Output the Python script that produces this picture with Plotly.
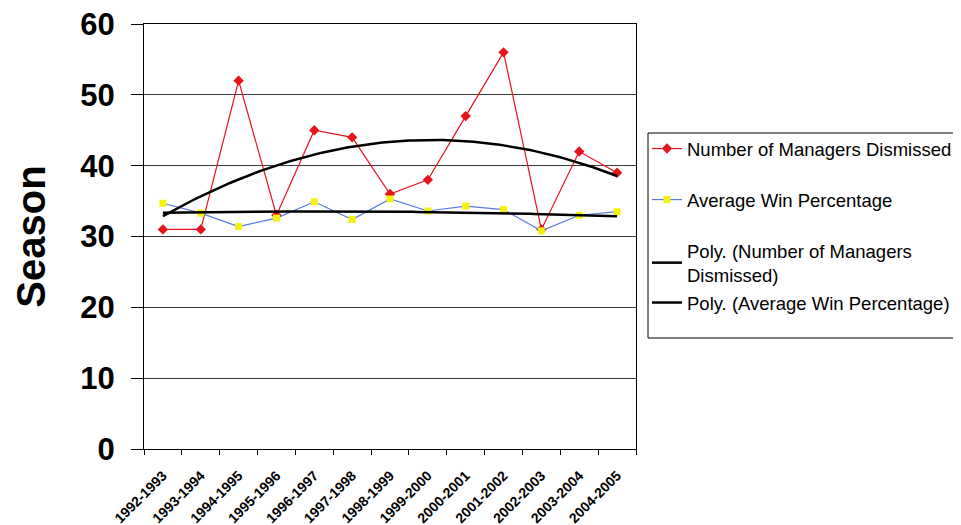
import numpy as np
import plotly.graph_objects as go

seasons = ["1992-1993", "1993-1994", "1994-1995", "1995-1996", "1996-1997",
           "1997-1998", "1998-1999", "1999-2000", "2000-2001", "2001-2002",
           "2002-2003", "2003-2004", "2004-2005"]
managers_dismissed = [31, 31, 52, 33, 45, 44, 36, 38, 47, 56, 31, 42, 39]
avg_win_pct = [34.7, 33.3, 31.4, 32.6, 34.9, 32.4, 35.3, 33.6, 34.3, 33.8, 30.8, 33.0, 33.5]
y_ticks = [0, 10, 20, 30, 40, 50, 60]

idx = np.arange(len(seasons))
xs = np.linspace(0, len(seasons) - 1, 121)
fit_m = np.polyval(np.polyfit(idx, managers_dismissed, 2), xs)
fit_w = np.polyval(np.polyfit(idx, avg_win_pct, 2), xs)

FONT = "Liberation Sans, Arial, sans-serif"
W, H = 961, 525
OFF = 8  # page body margin
# plot area in page pixels
PL, PR, PT, PB = 144, 636, 24, 449
L, R, T, B = PL - OFF, PR - OFF, PT - OFF, PB - OFF


def px(xp):
    return (xp - PL) / (PR - PL)


def py(yp):
    return (PB - yp) / (PB - PT)


fig = go.Figure()
fig.add_trace(go.Scatter(
    x=idx, y=managers_dismissed, mode="lines+markers",
    name="Number of Managers Dismissed", legend="legend", legendgroup="a",
    line=dict(color="#E8141B", width=1.2),
    marker=dict(symbol="diamond", size=8, color="#E8141B")))
fig.add_trace(go.Scatter(
    x=idx, y=avg_win_pct, mode="lines+markers",
    name="Average Win Percentage", legend="legend", legendgroup="b",
    line=dict(color="#5A78E0", width=1.2),
    marker=dict(symbol="square", size=7, color="#F4F010")))
fig.add_trace(go.Scatter(
    x=xs, y=fit_m, mode="lines",
    name="Poly. (Number of Managers<br>Dismissed)", legend="legend", legendgroup="c",
    line=dict(color="black", width=2.5)))
fig.add_trace(go.Scatter(
    x=xs, y=fit_w, mode="lines",
    name="Poly. (Average Win Percentage)", legend="legend2",
    line=dict(color="black", width=2.5)))

legfont = dict(size=18.5, family=FONT, color="black")
fig.update_layout(
    width=W, height=H,
    margin=dict(l=L, r=W - R, t=T, b=H - B, autoexpand=False),
    paper_bgcolor="white", plot_bgcolor="white",
    font=dict(family=FONT, color="black"),
    showlegend=True,
    legend=dict(
        x=px(647), y=py(130), xanchor="left", yanchor="top",
        borderwidth=0, bgcolor="rgba(0,0,0,0)", font=legfont,
        traceorder="grouped", tracegroupgap=24, itemwidth=30,
    ),
    legend2=dict(
        x=px(647), y=py(284), xanchor="left", yanchor="top",
        borderwidth=0, bgcolor="rgba(0,0,0,0)", font=legfont,
        itemwidth=30,
    ),
    shapes=[dict(type="rect", xref="paper", yref="paper",
                 x0=px(648), x1=px(980), y0=py(338), y1=py(133),
                 line=dict(color="black", width=1), fillcolor="rgba(0,0,0,0)",
                 layer="below")],
)
fig.update_xaxes(
    range=[-0.5, len(seasons) - 0.5], automargin=False,
    tickmode="array", tickvals=idx, ticktext=seasons,
    tickangle=-45, ticks="", ticklabelstandoff=12, ticklabeloverflow="allow",
    tickfont=dict(size=14, family=FONT, color="black", weight="bold"),
    showgrid=False, zeroline=False,
    showline=True, linecolor="black", linewidth=1, mirror=True,
    minor=dict(ticks="outside", ticklen=5, tick0=-0.5, dtick=1,
               tickcolor="black", showgrid=False),
)
fig.update_yaxes(
    range=[0, 60], automargin=False, tickmode="array", tickvals=y_ticks,
    ticks="outside", ticklen=12, tickcolor="black",
    ticklabelstandoff=10, ticklabeloverflow="allow",
    tickfont=dict(size=31, family=FONT, color="black", weight="bold"),
    showgrid=True, gridcolor="#3a3a3a", gridwidth=1,
    zeroline=False,
    showline=True, linecolor="black", linewidth=1, mirror=True,
    title=dict(text="Season", font=dict(size=40, family=FONT, color="black", weight="bold"),
               standoff=22),
)

fig.write_html("out.html")
